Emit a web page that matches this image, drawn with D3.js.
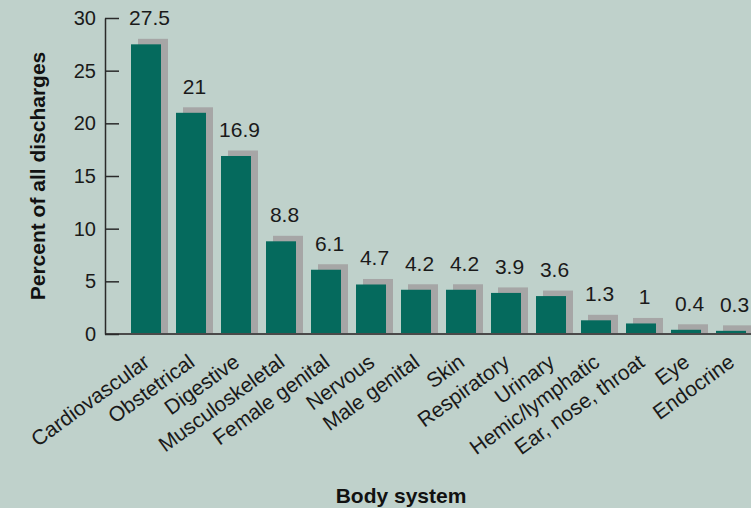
<!DOCTYPE html>
<html>
<head>
<meta charset="utf-8">
<script src="https://cdn.jsdelivr.net/npm/d3@7"></script>
<style>
  html, body { margin: 0; padding: 0; background: #bfd1cb; }
  svg { display: block; }
</style>
</head>
<body>
<svg id="chart" width="751" height="508"></svg>
<script>
const categories = ["Cardiovascular","Obstetrical","Digestive","Musculoskeletal","Female genital","Nervous","Male genital","Skin","Respiratory","Urinary","Hemic/lymphatic","Ear, nose, throat","Eye","Endocrine"];
const values = [27.5, 21, 16.9, 8.8, 6.1, 4.7, 4.2, 4.2, 3.9, 3.6, 1.3, 1, 0.4, 0.3];
const yTicks = [0, 5, 10, 15, 20, 25, 30];
const yTitle = "Percent of all discharges";
const xTitle = "Body system";

const svg = d3.select("#chart");
const W = 751, H = 508;
const FONT = "'Liberation Sans', Arial, Helvetica, sans-serif";
svg.append("rect").attr("width", W).attr("height", H).attr("fill", "#bfd1cb");

const axisX = 105, y0 = 334, yTop = 18;
const x = d3.scaleBand().domain(categories).range([123.5, 753.5]).paddingInner(1/3).paddingOuter(1/6);
const y = d3.scaleLinear().domain([0, 30]).range([y0, yTop]);

const barColor = "#056a5d", shadowColor = "#a6a6a6";
const data = categories.map((c, i) => ({ c, v: values[i] }));

// shadows
svg.append("g").selectAll("rect").data(data).join("rect")
  .attr("x", d => x(d.c) + 7)
  .attr("y", d => y(d.v) - 5.5)
  .attr("width", x.bandwidth())
  .attr("height", d => y0 - (y(d.v) - 5.5))
  .attr("fill", shadowColor);

// bars
svg.append("g").selectAll("rect").data(data).join("rect")
  .attr("x", d => x(d.c))
  .attr("y", d => y(d.v))
  .attr("width", x.bandwidth())
  .attr("height", d => y0 - y(d.v))
  .attr("fill", barColor);

// x axis baseline
svg.append("line").attr("x1", axisX).attr("x2", W).attr("y1", y0).attr("y2", y0)
  .attr("stroke", "#4a4a4a").attr("stroke-width", 2);

// y axis
const yAxis = d3.axisLeft(y).tickValues(yTicks).tickFormat(d3.format("d"))
  .tickSizeInner(-14).tickSizeOuter(0).tickPadding(9);
const gy = svg.append("g").attr("transform", `translate(${axisX},0)`).call(yAxis);
gy.select(".domain").attr("stroke", "#2a2a2a").attr("stroke-width", 1.5);
gy.selectAll(".tick line").attr("stroke", "#2a2a2a").attr("stroke-width", 1.5);
gy.selectAll(".tick text").attr("font-family", FONT).attr("font-size", 20).attr("fill", "#1a1a1a");

// value labels
svg.append("g").selectAll("text").data(data).join("text")
  .attr("x", d => x(d.c) + x.bandwidth() / 2 + 3.5)
  .attr("y", d => y(d.v) - 19)
  .attr("text-anchor", "middle")
  .attr("font-family", FONT).attr("font-size", 21).attr("fill", "#1a1a1a")
  .text(d => d.v);

// category labels
svg.append("g").selectAll("text").data(data).join("text")
  .attr("transform", d => `translate(${x(d.c) + x.bandwidth() / 2 + 5},365) rotate(-36)`)
  .attr("text-anchor", "end")
  .attr("font-family", FONT).attr("font-size", 21).attr("fill", "#1a1a1a")
  .text(d => d.c);

// titles
svg.append("text")
  .attr("transform", "translate(45,176) rotate(-90)")
  .attr("text-anchor", "middle")
  .attr("font-family", FONT).attr("font-weight", "bold").attr("font-size", 21)
  .attr("fill", "#111").text(yTitle);

svg.append("text")
  .attr("x", 401).attr("y", 503)
  .attr("text-anchor", "middle")
  .attr("font-family", FONT).attr("font-weight", "bold").attr("font-size", 21)
  .attr("fill", "#111").text(xTitle);
</script>
</body>
</html>
